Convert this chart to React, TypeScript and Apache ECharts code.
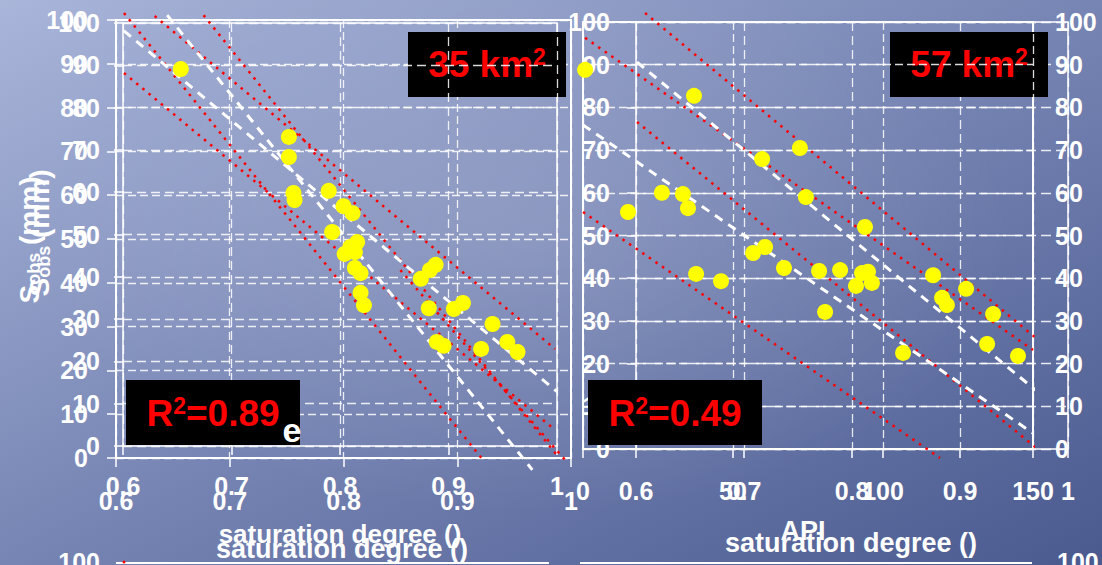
import { useEffect, useRef } from "react";
import * as echarts from "echarts";

// ---------------- DATA ----------------
// axis ranges / ticks
const satMin = 0.6;
const satMax = 1;
const satStep = 0.1;
const sobsMin = 0;
const sobsMax = 100;
const sobsStep = 10;
const apiMin = 0;
const apiMax = 150;
const apiStep = 50;

// Left panel (35 km²): S_obs (mm) vs saturation degree
const leftSaturation = [
  0.657, 0.752, 0.752, 0.756, 0.757, 0.787, 0.8, 0.808, 0.79, 0.812, 0.806, 0.81, 0.801, 0.81, 0.815,
  0.815, 0.818, 0.881, 0.876, 0.868, 0.875, 0.897, 0.905, 0.931, 0.882, 0.888, 0.921, 0.944, 0.953,
];
const leftSobs = [
  88.8, 73.3, 68.7, 60.5, 58.9, 61.0, 57.5, 55.9, 51.6, 49.3, 48.2, 47.0, 46.6, 43.4, 42.2, 37.7, 34.9,
  44.1, 42.9, 40.9, 34.2, 34.0, 35.4, 30.6, 26.5, 25.6, 24.9, 26.5, 24.2,
];
// fitted lines (white dashed) and bounds (red dotted), left panel
const leftFit1X = [0.607, 0.988];
const leftFit1Y = [97.5, 15.1];
const leftFit2X = [0.645, 0.966];
const leftFit2Y = [101.1, -2.7];
const leftBoundAX = [0.607, 0.924];
const leftBoundAY = [101.6, -0.9];
const leftBoundCX = [0.677, 0.989];
const leftBoundCY = [101.1, 0.2];
const leftBoundBX = [0.634, 0.986];
const leftBoundBY = [100.9, 24.9];
const leftBoundDX = [0.607, 0.986];
const leftBoundDY = [87.9, 6.4];
const leftBoundEX = [0.85, 0.997];
const leftBoundEY = [42.9, -1.1];

// Right panel (57 km²): S_obs (mm) vs API
const rightApi = [
  0.7, 37.0, 15.0, 26.3, 33.3, 35.0, 59.7, 72.3, 74.3, 56.7, 60.7, 67.0, 78.7, 37.7, 46.0, 80.7, 94.0,
  85.7, 95.0, 93.0, 91.0, 96.3, 106.7, 116.7, 119.7, 121.3, 127.7, 136.7, 134.7, 145.0,
];
const rightSobs = [
  88.8, 82.7, 55.5, 60.0, 59.7, 56.4, 67.9, 70.5, 59.0, 45.9, 47.3, 42.4, 41.7, 41.0, 39.3, 32.1, 52.0,
  41.9, 41.5, 41.2, 38.2, 38.9, 22.5, 40.7, 35.4, 33.7, 37.5, 31.6, 24.6, 21.8,
];
const rightFit1X = [18.0, 155.7];
const rightFit1Y = [90.6, 11.0];
const rightFit2X = [0, 150];
const rightFit2Y = [75.9, 3.7];
const rightBound1X = [20.7, 159];
const rightBound1Y = [102.1, 21.3];
const rightBound2X = [0.7, 150];
const rightBound2Y = [96.3, 23.2];
const rightBound3X = [18, 154];
const rightBound3Y = [76.6, -1.4];
const rightBound4X = [0, 119];
const rightBound4Y = [55.5, -2.1];

// texts
const areaLeft = "35 km";
const areaRight = "57 km";
const r2Left = "=0.89";
const r2Right = "=0.49";
const xTitleSat = "saturation degree ()";
const xTitleApi = "API";
const bottomTick = "100";

// ---------------- OPTION ----------------
const FONT = '"Liberation Sans", Arial, Helvetica, sans-serif';
const fmtSat = (v: number) => String(Math.round(v * 10) / 10);
const fmtInt = (v: number) => String(Math.round(v));

function axis(
  gridIndex: number,
  min: number,
  max: number,
  interval: number,
  margin: number,
  z: number,
  dash: number[],
  fmt: (v: number) => string,
  position: string
) {
  return {
    type: "value",
    gridIndex,
    min,
    max,
    interval,
    z,
    position,
    axisLine: { show: false },
    axisTick: { show: true, length: 9, lineStyle: { color: "#ffffff", width: 1.5 } },
    axisLabel: {
      show: true,
      margin,
      color: "#ffffff",
      fontSize: 25,
      fontWeight: "bold",
      fontFamily: FONT,
      formatter: fmt,
      showMinLabel: true,
      showMaxLabel: true,
    },
    splitLine: {
      show: true,
      lineStyle: { color: "rgba(255,255,255,0.85)", width: 1.3, type: dash },
    },
  };
}

const pairs = (xs: number[], ys: number[]) => xs.map((x, i) => [x, ys[i]]);

function scatter(ai: number, xs: number[], ys: number[]) {
  return {
    type: "scatter",
    xAxisIndex: ai,
    yAxisIndex: ai,
    data: pairs(xs, ys),
    symbolSize: 16,
    itemStyle: { color: "#ffff00", opacity: 1 },
    z: 6,
    silent: true,
  };
}

function line(ai: number, xs: number[], ys: number[], fit: boolean) {
  return {
    type: "line",
    xAxisIndex: ai,
    yAxisIndex: ai,
    data: pairs(xs, ys),
    showSymbol: false,
    symbol: "none",
    clip: false,
    silent: true,
    z: 5,
    lineStyle: fit
      ? { color: "#ffffff", width: 3, type: [9, 7] }
      : { color: "#ff0000", width: 2.5, type: [2.5, 5.5] },
  };
}

function blackBox(x: number, y: number, w: number, h: number, z: number) {
  return { type: "rect", shape: { x, y, width: w, height: h }, style: { fill: "#000000" }, z };
}

function redLabel(cx: number, cy: number, main: string, pre: string, z: number) {
  const rich = {
    a: { fontSize: 37, fontWeight: "bold", fontFamily: FONT, fill: "#ff0000", color: "#ff0000" },
    s: {
      fontSize: 23,
      fontWeight: "bold",
      fontFamily: FONT,
      fill: "#ff0000",
      color: "#ff0000",
      verticalAlign: "top",
    },
  };
  const text = pre ? `{a|${pre}}{s|2}{a|${main}}` : `{a|${main}}{s|2}`;
  return {
    type: "text",
    x: cx,
    y: cy,
    z,
    style: { text, align: "center", verticalAlign: "middle", rich },
  };
}

function whiteText(x: number, y: number, text: string, size: number, align: string, z = 1) {
  return {
    type: "text",
    x,
    y,
    z,
    style: {
      text,
      align,
      verticalAlign: "middle",
      fill: "#ffffff",
      fontSize: size,
      fontWeight: "bold",
      fontFamily: FONT,
    },
  };
}

function yTitle(x: number, y: number) {
  return {
    type: "text",
    x,
    y,
    z: 1,
    rotation: Math.PI / 2,
    style: {
      text: "{a|S}{b|obs}{a| (mm)}",
      align: "center",
      verticalAlign: "middle",
      rich: {
        a: { fontSize: 28, fontWeight: "bold", fontFamily: FONT, fill: "#ffffff", color: "#ffffff" },
        b: {
          fontSize: 18,
          fontWeight: "bold",
          fontFamily: FONT,
          fill: "#ffffff",
          color: "#ffffff",
          verticalAlign: "bottom",
        },
      },
    },
  };
}

const option = {
  animation: false,
  backgroundColor: "transparent",
  textStyle: { fontFamily: FONT },
  grid: [
    { left: 116, top: 20, width: 455, height: 438, show: true, borderColor: "#ffffff", borderWidth: 2, backgroundColor: "transparent", z: 0 },
    { left: 123, top: 23, width: 434, height: 423, show: true, borderColor: "#ffffff", borderWidth: 1.5, backgroundColor: "transparent", z: 0 },
    { left: 636, top: 22, width: 432, height: 427, show: true, borderColor: "#ffffff", borderWidth: 1.5, backgroundColor: "transparent", z: 0 },
    { left: 583, top: 22, width: 450, height: 427, show: true, borderColor: "#ffffff", borderWidth: 2, backgroundColor: "transparent", z: 0 },
  ],
  xAxis: [
    axis(0, satMin, satMax, satStep, 30, 0, [8, 4], fmtSat, "bottom"),
    axis(1, satMin, satMax, satStep, 27, 4, [9, 5], fmtSat, "bottom"),
    axis(2, satMin, satMax, satStep, 29, 0, [9, 5], fmtSat, "bottom"),
    axis(3, apiMin, apiMax, apiStep, 29, 4, [8, 4], fmtInt, "bottom"),
  ],
  yAxis: [
    axis(0, sobsMin, sobsMax, sobsStep, 28, 0, [8, 4], fmtInt, "left"),
    axis(1, sobsMin, sobsMax, sobsStep, 23, 4, [9, 5], fmtInt, "left"),
    axis(2, sobsMin, sobsMax, sobsStep, 26, 0, [10, 5], fmtInt, "left"),
    axis(3, sobsMin, sobsMax, sobsStep, 22, 4, [8, 4], fmtInt, "right"),
  ],
  series: [
    line(0, leftBoundAX, leftBoundAY, false),
    line(0, leftBoundCX, leftBoundCY, false),
    line(0, leftBoundBX, leftBoundBY, false),
    line(0, leftBoundDX, leftBoundDY, false),
    line(0, leftBoundEX, leftBoundEY, false),
    line(0, leftFit1X, leftFit1Y, true),
    line(0, leftFit2X, leftFit2Y, true),
    scatter(0, leftSaturation, leftSobs),
    line(3, rightBound1X, rightBound1Y, false),
    line(3, rightBound2X, rightBound2Y, false),
    line(3, rightBound3X, rightBound3Y, false),
    line(3, rightBound4X, rightBound4Y, false),
    line(3, rightFit1X, rightFit1Y, true),
    line(3, rightFit2X, rightFit2Y, true),
    scatter(3, rightApi, rightSobs),
  ],
  graphic: [
    // partial charts at the bottom edge
    { type: "line", shape: { x1: 116, y1: 563, x2: 549, y2: 563 }, style: { stroke: "#ffffff", lineWidth: 2 }, z: 1 },
    { type: "line", shape: { x1: 580, y1: 563, x2: 1032, y2: 563 }, style: { stroke: "#ffffff", lineWidth: 2 }, z: 1 },
    { type: "circle", shape: { cx: 124, cy: 562, r: 1.5 }, style: { fill: "#ff0000" }, z: 1 },
    whiteText(100, 562, bottomTick, 25, "right"),
    whiteText(1057, 562, bottomTick, 25, "left"),
    // axis titles
    yTitle(29, 240),
    yTitle(39, 233),
    whiteText(340, 534, xTitleSat, 26, "center"),
    whiteText(342, 549, xTitleSat, 27, "center"),
    whiteText(803, 531, xTitleApi, 27, "center"),
    whiteText(851, 543, xTitleSat, 27, "center"),
    // area boxes
    blackBox(408, 32, 158, 65, 2),
    redLabel(487, 64, areaLeft, "", 3),
    blackBox(890, 32, 158, 65, 2),
    redLabel(969, 64, areaRight, "", 3),
    // R² boxes
    blackBox(126, 380, 174, 65, 10),
    redLabel(213, 413, r2Left, "R", 11),
    whiteText(292, 430, "e", 34, "center", 12),
    blackBox(588, 380, 174, 65, 10),
    redLabel(675, 413, r2Right, "R", 11),
  ],
};

export default function App() {
  const ref = useRef<HTMLDivElement>(null);
  useEffect(() => {
    if (!ref.current) return;
    const chart = echarts.init(ref.current, undefined, { renderer: "svg" });
    chart.setOption(option as any);
    return () => chart.dispose();
  }, []);
  return (
    <div
      ref={ref}
      style={{
        position: "fixed",
        left: 0,
        top: 0,
        width: 1102,
        height: 565,
        background:
          "radial-gradient(ellipse at 48% 42%, rgba(255,255,255,0.13) 0%, rgba(255,255,255,0) 60%), linear-gradient(to bottom right, #a9b5d9 0%, #7785b4 50%, #4a5a8f 100%)",
      }}
    />
  );
}
